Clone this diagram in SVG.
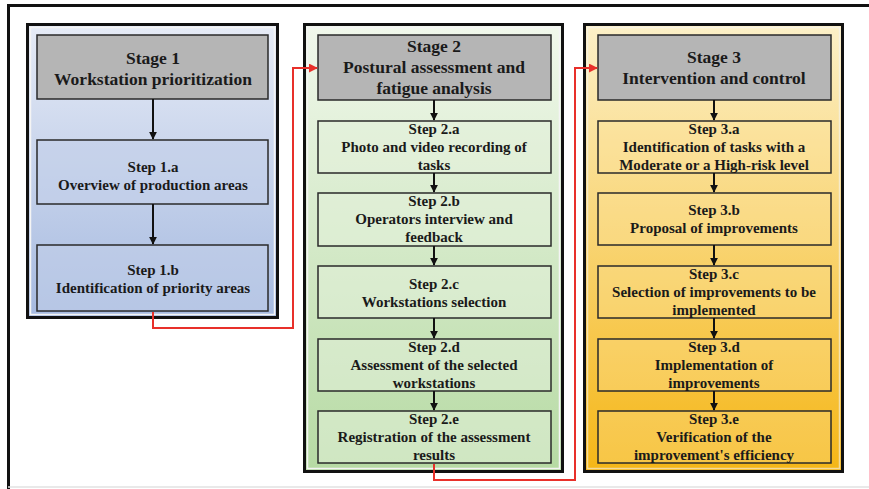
<svg xmlns="http://www.w3.org/2000/svg" width="869" height="489" viewBox="0 0 869 489">
  <defs>
    <linearGradient id="gBlue" x1="0" y1="0" x2="0" y2="1">
      <stop offset="0" stop-color="#e6ebf6"/>
      <stop offset="1" stop-color="#a6bae0"/>
    </linearGradient>
    <linearGradient id="gGreen" x1="0" y1="0" x2="0" y2="1">
      <stop offset="0" stop-color="#f1f8ec"/>
      <stop offset="1" stop-color="#b6daa3"/>
    </linearGradient>
    <linearGradient id="gYellow" x1="0" y1="0" x2="0" y2="1">
      <stop offset="0" stop-color="#fcf0c8"/>
      <stop offset="1" stop-color="#f5b616"/>
    </linearGradient>
    <marker id="arrowBlack" viewBox="0 0 10 10" refX="9" refY="5" markerWidth="4" markerHeight="4" orient="auto" markerUnits="strokeWidth">
      <path d="M0,0 L10,5 L0,10 Z" fill="#111"/>
    </marker>
    <marker id="arrowRed" viewBox="0 0 10 10" refX="9" refY="5" markerWidth="4.5" markerHeight="4.5" orient="auto" markerUnits="strokeWidth">
      <path d="M0,0 L10,5 L0,10 Z" fill="#e8302a"/>
    </marker>
  </defs>
  <style>
    .frame { fill: none; stroke: #111; stroke-width: 3; }
    .stage { stroke: #111; stroke-width: 3; }
    .inner { fill: none; stroke: #f4f4f4; stroke-width: 1.5; }
    .header { fill: #b5b5b5; stroke: #2a2a2a; stroke-width: 1.5; }
    .step { stroke: #2a2a2a; stroke-width: 1.5; }
    .s1 { fill: #c2cfea; fill-opacity: 0.55; }
    .s2 { fill: #e4f1da; fill-opacity: 0.55; }
    .s3 { fill: #fbe39a; fill-opacity: 0.35; }
    text { font-family: "Liberation Serif", "Times New Roman", serif; font-weight: bold; fill: #1a1a1a; text-anchor: middle; }
    .h { font-size: 17.5px; }
    .t { font-size: 15px; }
    .flow { fill: none; stroke: #111; stroke-width: 2; }
    .link { fill: none; stroke: #e8302a; stroke-width: 2; }
  </style>

  <!-- page frame -->
  <rect x="0" y="0" width="869" height="489" fill="#ffffff"/>
  <path class="frame" d="M869,5.5 H8.5 V489"/>
  <line x1="8" y1="487" x2="869" y2="487" stroke="#e2e2e2" stroke-width="1.5"/>

  <!-- Stage 1 -->
  <g id="stage1">
    <rect class="stage" x="27.5" y="24.5" width="250" height="293" fill="url(#gBlue)"/>
    <rect class="inner" x="30.5" y="27.5" width="244" height="287"/>
    <g id="stage1-header">
      <rect class="header" x="37" y="35" width="231" height="64"/>
      <text class="h" x="153" y="64">Stage 1</text>
      <text class="h" x="153" y="85">Workstation prioritization</text>
    </g>
    <g id="step1a">
      <rect class="step s1" x="37" y="140" width="231" height="64"/>
      <text class="t" x="153" y="172">Step 1.a</text>
      <text class="t" x="153" y="190">Overview of production areas</text>
    </g>
    <g id="step1b">
      <rect class="step s1" x="37" y="245" width="231" height="66"/>
      <text class="t" x="153" y="275">Step 1.b</text>
      <text class="t" x="153" y="293">Identification of priority areas</text>
    </g>
  </g>

  <!-- Stage 2 -->
  <g id="stage2">
    <rect class="stage" x="304.5" y="24.5" width="258" height="447" fill="url(#gGreen)"/>
    <rect class="inner" x="307.5" y="27.5" width="252" height="441"/>
    <g id="stage2-header">
      <rect class="header" x="318" y="35" width="233" height="65"/>
      <text class="h" x="434" y="52">Stage 2</text>
      <text class="h" x="434" y="73">Postural assessment and</text>
      <text class="h" x="434" y="94">fatigue analysis</text>
    </g>
    <g id="step2a">
      <rect class="step s2" x="318" y="121" width="233" height="52"/>
      <text class="t" x="434" y="134">Step 2.a</text>
      <text class="t" x="434" y="152">Photo and video recording of</text>
      <text class="t" x="434" y="170">tasks</text>
    </g>
    <g id="step2b">
      <rect class="step s2" x="318" y="193" width="233" height="53"/>
      <text class="t" x="434" y="206">Step 2.b</text>
      <text class="t" x="434" y="224">Operators interview and</text>
      <text class="t" x="434" y="242">feedback</text>
    </g>
    <g id="step2c">
      <rect class="step s2" x="318" y="266" width="233" height="52"/>
      <text class="t" x="434" y="289">Step 2.c</text>
      <text class="t" x="434" y="307">Workstations selection</text>
    </g>
    <g id="step2d">
      <rect class="step s2" x="318" y="339" width="233" height="52"/>
      <text class="t" x="434" y="352">Step 2.d</text>
      <text class="t" x="434" y="370">Assessment of the selected</text>
      <text class="t" x="434" y="388">workstations</text>
    </g>
    <g id="step2e">
      <rect class="step s2" x="318" y="411" width="233" height="52"/>
      <text class="t" x="434" y="424">Step 2.e</text>
      <text class="t" x="434" y="442">Registration of the assessment</text>
      <text class="t" x="434" y="460">results</text>
    </g>
  </g>

  <!-- Stage 3 -->
  <g id="stage3">
    <rect class="stage" x="584.5" y="24.5" width="258" height="447" fill="url(#gYellow)"/>
    <rect class="inner" x="587.5" y="27.5" width="252" height="441" stroke-opacity="0.6"/>
    <g id="stage3-header">
      <rect class="header" x="598" y="35" width="233" height="65"/>
      <text class="h" x="714" y="63">Stage 3</text>
      <text class="h" x="714" y="84">Intervention and control</text>
    </g>
    <g id="step3a">
      <rect class="step s3" x="598" y="121" width="233" height="52"/>
      <text class="t" x="714" y="134">Step 3.a</text>
      <text class="t" x="714" y="152">Identification of tasks with a</text>
      <text class="t" x="714" y="170">Moderate or a High-risk level</text>
    </g>
    <g id="step3b">
      <rect class="step s3" x="598" y="193" width="233" height="52"/>
      <text class="t" x="714" y="215">Step 3.b</text>
      <text class="t" x="714" y="233">Proposal of improvements</text>
    </g>
    <g id="step3c">
      <rect class="step s3" x="598" y="266" width="233" height="52"/>
      <text class="t" x="714" y="279">Step 3.c</text>
      <text class="t" x="714" y="297">Selection of improvements to be</text>
      <text class="t" x="714" y="315">implemented</text>
    </g>
    <g id="step3d">
      <rect class="step s3" x="598" y="339" width="233" height="52"/>
      <text class="t" x="714" y="352">Step 3.d</text>
      <text class="t" x="714" y="370">Implementation of</text>
      <text class="t" x="714" y="388">improvements</text>
    </g>
    <g id="step3e">
      <rect class="step s3" x="598" y="411" width="233" height="52"/>
      <text class="t" x="714" y="424">Step 3.e</text>
      <text class="t" x="714" y="442">Verification of the</text>
      <text class="t" x="714" y="460">improvement's efficiency</text>
    </g>
  </g>

  <!-- connectors -->
  <g id="connectors">
    <line class="flow" x1="153" y1="99" x2="153" y2="139" marker-end="url(#arrowBlack)"/>
    <line class="flow" x1="153" y1="204" x2="153" y2="244" marker-end="url(#arrowBlack)"/>

    <line class="flow" x1="434" y1="100" x2="434" y2="120" marker-end="url(#arrowBlack)"/>
    <line class="flow" x1="434" y1="173" x2="434" y2="192" marker-end="url(#arrowBlack)"/>
    <line class="flow" x1="434" y1="246" x2="434" y2="265" marker-end="url(#arrowBlack)"/>
    <line class="flow" x1="434" y1="318" x2="434" y2="338" marker-end="url(#arrowBlack)"/>
    <line class="flow" x1="434" y1="391" x2="434" y2="410" marker-end="url(#arrowBlack)"/>

    <line class="flow" x1="714" y1="100" x2="714" y2="120" marker-end="url(#arrowBlack)"/>
    <line class="flow" x1="714" y1="173" x2="714" y2="192" marker-end="url(#arrowBlack)"/>
    <line class="flow" x1="714" y1="245" x2="714" y2="265" marker-end="url(#arrowBlack)"/>
    <line class="flow" x1="714" y1="318" x2="714" y2="338" marker-end="url(#arrowBlack)"/>
    <line class="flow" x1="714" y1="391" x2="714" y2="410" marker-end="url(#arrowBlack)"/>

    <path class="link" d="M153,312 V328 H293 V68 H317" marker-end="url(#arrowRed)"/>
    <path class="link" d="M434,464 V480 H575 V68 H597" marker-end="url(#arrowRed)"/>
  </g>
</svg>
